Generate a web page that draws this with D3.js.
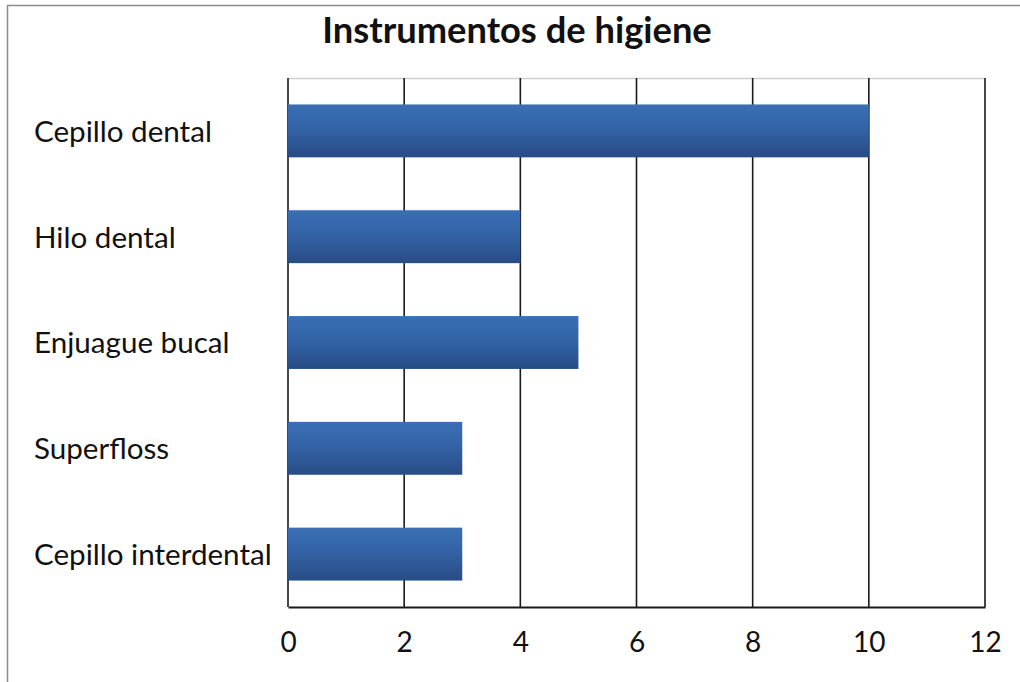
<!DOCTYPE html>
<html>
<head>
<meta charset="utf-8">
<script src="https://cdn.jsdelivr.net/npm/d3@7"></script>
<style>
  html, body { margin: 0; padding: 0; background: #fff; }
  svg { display: block; }
  text { font-family: Lato, "Open Sans", sans-serif; fill: #111; }
</style>
</head>
<body>
<svg id="chart" width="1020" height="682"></svg>
<script>
// Instrument categories, top to bottom
const categories = ["Cepillo dental", "Hilo dental", "Enjuague bucal", "Superfloss", "Cepillo interdental"];
// Count for each instrument
const values = [10, 4, 5, 3, 3];
// Value axis ticks
const xTicks = [0, 2, 4, 6, 8, 10, 12];
const chartTitle = "Instrumentos de higiene";

const svg = d3.select("#chart");
const W = 1020, H = 682;
const plot = { left: 288, right: 985, top: 78, bottom: 607 };

// Outer chart frame (top and left edges visible)
svg.append("path")
  .attr("d", `M7.5,${H} V5.5 H${W}`)
  .attr("fill", "none")
  .attr("stroke", "#8c8c8c")
  .attr("stroke-width", 1.5);

const x = d3.scaleLinear().domain([0, 12]).range([plot.left, plot.right]);
const y = d3.scaleBand().domain(categories).range([plot.top, plot.bottom]).paddingInner(0.5).paddingOuter(0.25);

// Bar fill gradient
const defs = svg.append("defs");
const grad = defs.append("linearGradient").attr("id", "barGrad").attr("x1", 0).attr("y1", 0).attr("x2", 0).attr("y2", 1);
grad.append("stop").attr("offset", "0%").attr("stop-color", "#3a6fb4");
grad.append("stop").attr("offset", "45%").attr("stop-color", "#3363a6");
grad.append("stop").attr("offset", "100%").attr("stop-color", "#284c85");

// Plot area top border
svg.append("line")
  .attr("x1", plot.left).attr("x2", plot.right)
  .attr("y1", plot.top + 0.5).attr("y2", plot.top + 0.5)
  .attr("stroke", "#d0d0d0").attr("stroke-width", 1.5);

// Vertical gridlines
svg.append("g")
  .selectAll("line")
  .data(xTicks)
  .join("line")
  .attr("x1", d => x(d)).attr("x2", d => x(d))
  .attr("y1", plot.top).attr("y2", plot.bottom)
  .attr("stroke", "#1a1a1a").attr("stroke-width", 1.6);

// Bars
svg.append("g")
  .selectAll("rect")
  .data(categories.map((c, i) => ({ c, v: values[i] })))
  .join("rect")
  .attr("x", x(0))
  .attr("y", d => y(d.c))
  .attr("width", d => x(d.v) - x(0))
  .attr("height", y.bandwidth())
  .attr("fill", "url(#barGrad)");

// Bottom axis
const xAxis = d3.axisBottom(x).tickValues(xTicks).tickSize(0).tickPadding(25).tickFormat(d3.format("d"));
const gx = svg.append("g").attr("transform", `translate(0,${plot.bottom})`).call(xAxis);
gx.select(".domain").attr("stroke", "#1a1a1a").attr("stroke-width", 1.8);
gx.selectAll("text").style("font-size", "28px").style("font-family", "Lato, 'Open Sans', sans-serif").attr("fill", "#111");

// Category labels, left aligned
svg.append("g")
  .selectAll("text")
  .data(categories)
  .join("text")
  .attr("x", 34)
  .attr("y", d => y(d) + y.bandwidth() / 2)
  .attr("dy", "0.37em")
  .style("font-size", "29.6px")
  .text(d => d);

// Title
svg.append("text")
  .attr("x", 517)
  .attr("y", 43)
  .attr("text-anchor", "middle")
  .style("font-size", "36.3px")
  .style("font-weight", "bold")
  .text(chartTitle);
</script>
</body>
</html>
